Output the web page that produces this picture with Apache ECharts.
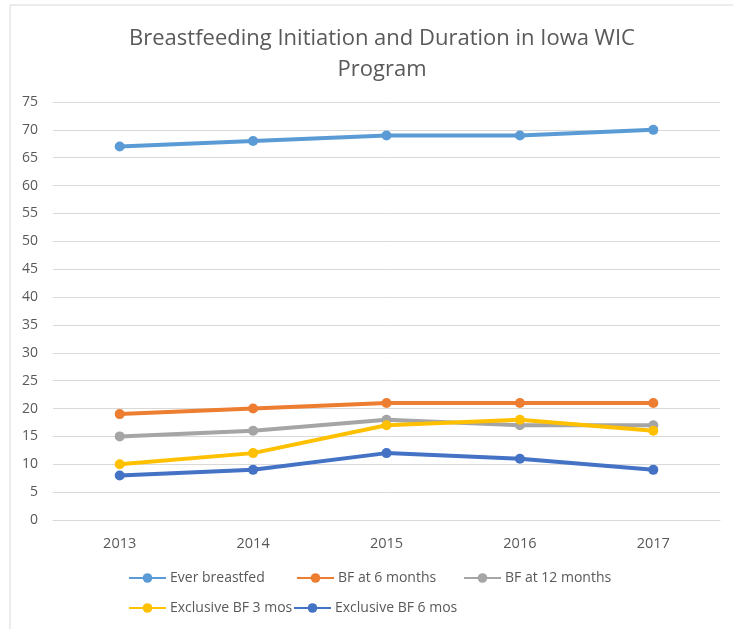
<!DOCTYPE html>
<html>
<head>
<meta charset="utf-8">
<script src="https://cdn.jsdelivr.net/npm/echarts@6/dist/echarts.min.js"></script>
<style>
  html, body { margin: 0; padding: 0; background: #fff; }
  #chart { width: 733px; height: 629px; }
</style>
</head>
<body>
<div id="chart"></div>
<script>
// data
const years = ['2013', '2014', '2015', '2016', '2017']
const everBreastfed = [67, 68, 69, 69, 70]
const bf6Months = [19, 20, 21, 21, 21]
const bf12Months = [15, 16, 18, 17, 17]
const exclusive3Mos = [10, 12, 17, 18, 16]
const exclusive6Mos = [8, 9, 12, 11, 9]

const font = "'Open Sans', 'Noto Sans', sans-serif"
const grey = '#595959'

const seriesList = [
  { name: 'Ever breastfed', data: everBreastfed, color: '#5B9BD5', pos: [128, 571] },
  { name: 'BF at 6 months', data: bf6Months, color: '#ED7D31', pos: [296, 571] },
  { name: 'BF at 12 months', data: bf12Months, color: '#A5A5A5', pos: [463, 571] },
  { name: 'Exclusive BF 3 mos', data: exclusive3Mos, color: '#FFC000', pos: [128, 601] },
  { name: 'Exclusive BF 6 mos', data: exclusive6Mos, color: '#4472C4', pos: [293, 601] }
]

const chart = echarts.init(document.getElementById('chart'))
chart.setOption({
  animation: false,
  textStyle: { fontFamily: font },
  graphic: [{
    type: 'rect',
    shape: { x: 10, y: 5, width: 760, height: 660 },
    style: { fill: 'none', stroke: '#D9D9D9', lineWidth: 1 },
    silent: true
  }],
  title: {
    text: 'Breastfeeding Initiation and Duration in Iowa WIC\nProgram',
    left: 377,
    textAlign: 'center',
    top: 18,
    textStyle: { fontFamily: font, fontSize: 22, fontWeight: 'normal', color: grey, lineHeight: 31 }
  },
  // one legend per item so the columns line up like the original
  legend: seriesList.map(s => ({
    data: [s.name],
    left: s.pos[0],
    top: s.pos[1],
    padding: 0,
    itemWidth: 37,
    itemHeight: 12,
    itemGap: 0,
    textStyle: { fontFamily: font, fontSize: 14, color: grey, padding: [0, 0, 0, -1] }
  })),
  grid: { left: 53, right: 13, top: 102, bottom: 109 },
  xAxis: {
    type: 'category',
    data: years,
    axisLine: { lineStyle: { color: '#D9D9D9' } },
    axisTick: { show: false },
    axisLabel: { color: grey, fontSize: 14.5, margin: 16, fontFamily: font }
  },
  yAxis: {
    type: 'value',
    min: 0,
    max: 75,
    interval: 5,
    axisLine: { show: false },
    axisTick: { show: false },
    axisLabel: { color: grey, fontSize: 14, margin: 15, fontFamily: font },
    splitLine: { lineStyle: { color: '#D9D9D9' } }
  },
  series: seriesList.map(s => ({
    name: s.name,
    type: 'line',
    data: s.data,
    symbol: 'circle',
    symbolSize: 10,
    color: s.color,
    lineStyle: { width: 4 }
  }))
})
</script>
</body>
</html>
